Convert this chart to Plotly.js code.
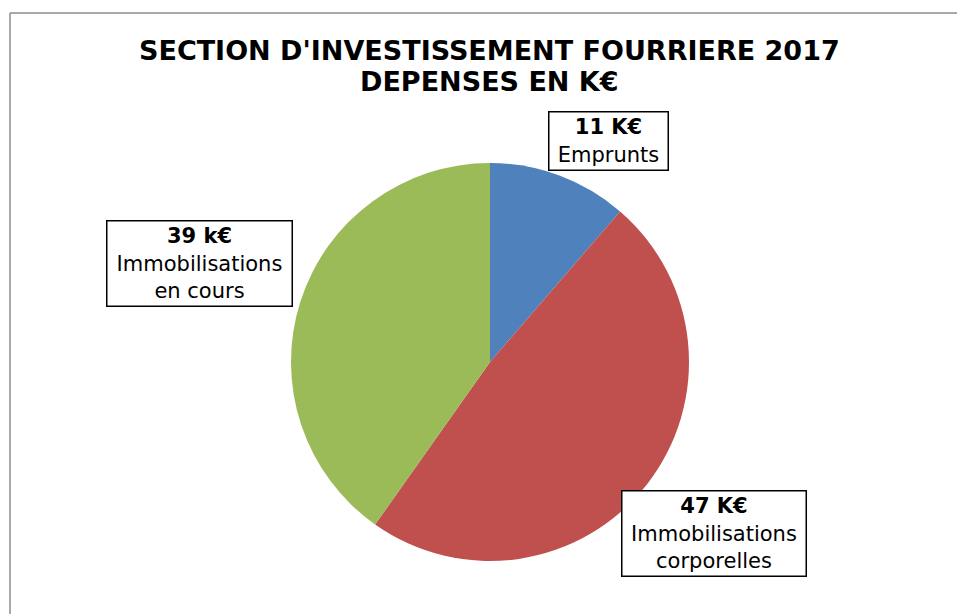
<!DOCTYPE html>
<html>
<head>
<meta charset="utf-8">
<script src="https://cdn.plot.ly/plotly-3.0.1.min.js"></script>
<style>
  html, body { margin: 0; padding: 0; background: #ffffff; }
  #chart { width: 957px; height: 614px; }
</style>
</head>
<body>
<div id="chart"></div>
<script>
// Data
const categories = ["Emprunts", "Immobilisations<br>corporelles", "Immobilisations<br>en cours"];
const values = [11, 47, 39];
const units = ["K€", "K€", "k€"];
const colors = ["#4F81BD", "#C0504D", "#9BBB59"];
const titleLines = ["SECTION D'INVESTISSEMENT FOURRIERE 2017", "DEPENSES EN K€"];

const W = 957, H = 614;
const px = x => x / W;
const py = y => 1 - y / H;

// Label box placement (pixels: center x, center y, width, height)
const boxes = [
  {cx: 608, cy: 140.5, w: 120, h: 59},
  {cx: 713.5, cy: 533, w: 185, h: 86},
  {cx: 199, cy: 263, w: 186, h: 86}
];
const titleY = [50, 81];

const trace = {
  type: 'pie',
  values: values,
  labels: categories,
  sort: false,
  direction: 'clockwise',
  rotation: 0,
  textinfo: 'none',
  hoverinfo: 'none',
  marker: { colors: colors, line: { width: 0 } },
  domain: { x: [px(291), px(689)], y: [py(561), py(163)] },
  showlegend: false
};

const annotations = categories.map((c, i) => ({
  xref: 'paper', yref: 'paper',
  x: px(boxes[i].cx), y: py(boxes[i].cy),
  xanchor: 'center', yanchor: 'middle',
  width: boxes[i].w - 4, height: boxes[i].h - 4,
  showarrow: false,
  text: '<b>' + values[i] + ' ' + units[i] + '</b><br>' + c,
  font: { family: 'DejaVu Sans, Verdana, sans-serif', size: 21, color: '#000000' },
  align: 'center',
  valign: 'middle',
  bordercolor: '#000000',
  borderwidth: 1.5,
  borderpad: 1,
  bgcolor: '#ffffff'
}));

titleLines.forEach((t, i) => annotations.push({
  xref: 'paper', yref: 'paper',
  x: px(490), y: py(titleY[i]),
  xanchor: 'center', yanchor: 'middle',
  showarrow: false,
  text: '<b>' + t + '</b>',
  font: { family: 'DejaVu Sans, Verdana, sans-serif', size: 27, color: '#000000' }
}));

const layout = {
  width: W, height: H,
  margin: { l: 0, r: 0, t: 0, b: 0 },
  paper_bgcolor: '#ffffff',
  annotations: annotations,
  shapes: [
    { type: 'line', xref: 'paper', yref: 'paper', x0: px(10), x1: px(10), y0: 0, y1: py(13),
      line: { color: '#8c8c8c', width: 1.5 } },
    { type: 'line', xref: 'paper', yref: 'paper', x0: px(10), x1: 1, y0: py(13), y1: py(13),
      line: { color: '#8c8c8c', width: 1.5 } }
  ]
};

Plotly.newPlot('chart', [trace], layout, { displayModeBar: false, staticPlot: true });
</script>
</body>
</html>
